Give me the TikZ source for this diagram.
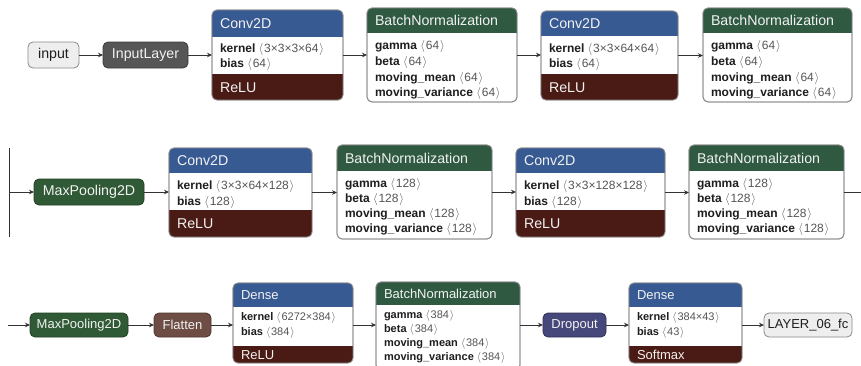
\documentclass[tikz,border=0pt]{standalone}
\usepackage{fontspec}
\setmainfont{Liberation Sans}
\usetikzlibrary{arrows.meta}
\definecolor{convc}{HTML}{385A93}
\definecolor{normc}{HTML}{2F5A41}
\definecolor{reluc}{HTML}{4A1A14}
\definecolor{poolc}{HTML}{2F5A35}
\definecolor{shapec}{HTML}{6E4D44}
\definecolor{dropc}{HTML}{46477A}
\definecolor{inlc}{HTML}{565656}
\definecolor{ioc}{HTML}{EEEEEE}
\definecolor{bordc}{HTML}{8A8A8A}
\definecolor{headt}{HTML}{F2F2F2}
\definecolor{labc}{HTML}{1E1E1E}
\definecolor{valc}{HTML}{555555}
\definecolor{linec}{HTML}{333333}
\newcommand\hfA{\fontsize{14.2}{16}\selectfont}
\newcommand\hfB{\fontsize{13}{15}\selectfont}
\newcommand\bfA{\fontsize{12}{13}\selectfont}
\newcommand\bfB{\fontsize{11}{13}\selectfont}
\newcommand\vv[1]{\textcolor{valc}{$\langle$\kern0.8pt#1\kern0.8pt$\rangle$}}
% layer box with header
\newcommand\lyr[9]{%
  \node[lbox, minimum width={(#4-#2)*1pt}, minimum height={(#5-#3)*1pt}, anchor=north west] (#1) at (#2,#3) {};
  \begin{scope}
    \clip[rounded corners=5pt] (#1.north west) rectangle (#1.south east);
    \fill[#7] (#1.north west) rectangle (#4,#6);
  \end{scope}
  \node[txt, #8, text=headt, anchor=west] (#1-h) at (#2+8,{(#3+#6)/2}) {#9};
}
% footer (activation)
\newcommand\ftr[6]{%
  \begin{scope}
    \clip[rounded corners=5pt] (#1.north west) rectangle (#1.south east);
    \fill[reluc] (#2,#3) rectangle (#1.south east);
  \end{scope}
  \node[txt, #5, text=headt, anchor=west] (#1-f) at (#2+8,{(#3+#4)/2}) {#6};
}
\newcommand\brd[1]{\draw[draw=bordc, line width=0.8pt, rounded corners=5pt] (#1.north west) rectangle (#1.south east);}
\newcommand\bl[5]{\node[txt, #4, text=labc, anchor=west] (#1) at (#2,#3) {#5};}
% simple node
\newcommand\snd[9]{%
  \node[snode, fill=#6, draw=#7, text=#8, minimum width={(#4-#2)*1pt}, minimum height={(#5-#3)*1pt}, anchor=north west] (#1) at (#2,#3) {#9};
}
\begin{document}
\begin{tikzpicture}[x=1pt,y=-1pt,
  lbox/.style={draw=bordc, line width=0.8pt, fill=white, rounded corners=5pt, inner sep=0pt, outer sep=0pt},
  snode/.style={line width=0.8pt, rounded corners=5pt, inner sep=0pt, outer sep=0pt},
  txt/.style={inner sep=0pt, outer sep=0pt},
  hA/.style={font=\hfA, text height=10.4pt, text depth=0pt},
  hB/.style={font=\hfB, text height=9.5pt, text depth=0pt},
  bA/.style={font=\bfA, text height=8.4pt, text depth=0pt},
  bB/.style={font=\bfB, text height=7.8pt, text depth=0pt},
  conn/.style={draw=linec, line width=0.8pt, -{Stealth[length=5pt,width=4.5pt]}},
  plain/.style={draw=linec, line width=0.8pt}
]
\clip (0,0) rectangle (861,365);
\fill[white] (0,0) rectangle (861,365);

% ---------------- Row 1 ----------------
\snd{inp}{28}{42}{79}{68}{ioc}{bordc}{labc}{\hfA input}
\snd{il}{103}{42}{188}{68}{inlc}{inlc!70!black}{headt}{\hfA InputLayer}

\lyr{c1}{212}{10}{343}{100}{37}{convc}{hA}{Conv2D}
\ftr{c1}{212}{74}{100}{hA}{ReLU}
\brd{c1}
\bl{c1-1}{220}{48}{bA}{\textbf{kernel} \vv{3×3×3×64}}
\bl{c1-2}{220}{63}{bA}{\textbf{bias} \vv{64}}

\lyr{b1}{367}{8}{517}{102}{33}{normc}{hA}{BatchNormalization}
\brd{b1}
\bl{b1-1}{375}{45}{bA}{\textbf{gamma} \vv{64}}
\bl{b1-2}{375}{61}{bA}{\textbf{beta} \vv{64}}
\bl{b1-3}{375}{77}{bA}{\textbf{moving\_mean} \vv{64}}
\bl{b1-4}{375}{92}{bA}{\textbf{moving\_variance} \vv{64}}

\lyr{c2}{541}{11}{678}{100}{36}{convc}{hA}{Conv2D}
\ftr{c2}{541}{74}{100}{hA}{ReLU}
\brd{c2}
\bl{c2-1}{549}{48}{bA}{\textbf{kernel} \vv{3×3×64×64}}
\bl{c2-2}{549}{63}{bA}{\textbf{bias} \vv{64}}

\lyr{b2}{703}{8}{852}{102}{33}{normc}{hA}{BatchNormalization}
\brd{b2}
\bl{b2-1}{711}{45}{bA}{\textbf{gamma} \vv{64}}
\bl{b2-2}{711}{61}{bA}{\textbf{beta} \vv{64}}
\bl{b2-3}{711}{77}{bA}{\textbf{moving\_mean} \vv{64}}
\bl{b2-4}{711}{92}{bA}{\textbf{moving\_variance} \vv{64}}

\draw[conn] (inp.east) -- (il.west);
\draw[conn] (il.east) -- (il.east -| c1.west);
\draw[conn] (c1.east) -- (c1.east -| b1.west);
\draw[conn] (b1.east) -- (b1.east -| c2.west);
\draw[conn] (c2.east) -- (c2.east -| b2.west);

% ---------------- Row 2 ----------------
\coordinate (l2t) at (9,148);
\coordinate (l2b) at (9,237);
\coordinate (l2m) at (9,192);
\snd{mp2}{34}{179}{144}{205}{poolc}{poolc!70!black}{headt}{\hfA MaxPooling2D}

\lyr{c3}{169}{148}{312}{237}{173}{convc}{hA}{Conv2D}
\ftr{c3}{169}{210}{237}{hA}{ReLU}
\brd{c3}
\bl{c3-1}{177}{185}{bA}{\textbf{kernel} \vv{3×3×64×128}}
\bl{c3-2}{177}{201}{bA}{\textbf{bias} \vv{128}}

\lyr{b3}{337}{145}{492}{239}{171}{normc}{hA}{BatchNormalization}
\brd{b3}
\bl{b3-1}{345}{183}{bA}{\textbf{gamma} \vv{128}}
\bl{b3-2}{345}{198}{bA}{\textbf{beta} \vv{128}}
\bl{b3-3}{345}{213}{bA}{\textbf{moving\_mean} \vv{128}}
\bl{b3-4}{345}{228}{bA}{\textbf{moving\_variance} \vv{128}}

\lyr{c4}{516}{148}{665}{237}{173}{convc}{hA}{Conv2D}
\ftr{c4}{516}{210}{237}{hA}{ReLU}
\brd{c4}
\bl{c4-1}{524}{185}{bA}{\textbf{kernel} \vv{3×3×128×128}}
\bl{c4-2}{524}{201}{bA}{\textbf{bias} \vv{128}}

\lyr{b4}{689}{145}{844}{239}{171}{normc}{hA}{BatchNormalization}
\brd{b4}
\bl{b4-1}{697}{183}{bA}{\textbf{gamma} \vv{128}}
\bl{b4-2}{697}{198}{bA}{\textbf{beta} \vv{128}}
\bl{b4-3}{697}{213}{bA}{\textbf{moving\_mean} \vv{128}}
\bl{b4-4}{697}{228}{bA}{\textbf{moving\_variance} \vv{128}}
\coordinate (r2) at (861,192);

\draw[plain] (l2t) -- (l2b);
\draw[conn] (l2m) -- (l2m -| mp2.west);
\draw[conn] (mp2.east) -- (mp2.east -| c3.west);
\draw[conn] (c3.east) -- (c3.east -| b3.west);
\draw[conn] (b3.east) -- (b3.east -| c4.west);
\draw[conn] (c4.east) -- (c4.east -| b4.west);
\draw[plain] (b4.east) -- (r2);

% ---------------- Row 3 ----------------
\coordinate (l3) at (8,325);
\snd{mp3}{30}{313}{128}{337}{poolc}{poolc!70!black}{headt}{\hfB MaxPooling2D}
\snd{fl}{154}{313}{211}{337}{shapec}{shapec!70!black}{headt}{\hfB Flatten}

\lyr{d1}{233}{283}{353}{363}{307}{convc}{hB}{Dense}
\ftr{d1}{233}{346}{363}{hB}{ReLU}
\brd{d1}
\bl{d1-1}{241}{317}{bB}{\textbf{kernel} \vv{6272×384}}
\bl{d1-2}{241}{332}{bB}{\textbf{bias} \vv{384}}

\lyr{b5}{376}{282}{520}{370}{305}{normc}{hB}{BatchNormalization}
\brd{b5}
\bl{b5-1}{384}{315}{bB}{\textbf{gamma} \vv{384}}
\bl{b5-2}{384}{329}{bB}{\textbf{beta} \vv{384}}
\bl{b5-3}{384}{343}{bB}{\textbf{moving\_mean} \vv{384}}
\bl{b5-4}{384}{357}{bB}{\textbf{moving\_variance} \vv{384}}

\snd{dr}{543}{313}{606}{337}{dropc}{dropc!70!black}{headt}{\hfB Dropout}

\lyr{d2}{629}{283}{742}{363}{307}{convc}{hB}{Dense}
\ftr{d2}{629}{346}{363}{hB}{Softmax}
\brd{d2}
\bl{d2-1}{637}{317}{bB}{\textbf{kernel} \vv{384×43}}
\bl{d2-2}{637}{332}{bB}{\textbf{bias} \vv{43}}

\snd{out}{764}{313}{852}{337}{ioc}{bordc}{labc}{\hfB LAYER\_06\_fc}

\draw[conn] (l3) -- (l3 -| mp3.west);
\draw[conn] (mp3.east) -- (fl.west);
\draw[conn] (fl.east) -- (fl.east -| d1.west);
\draw[conn] (fl.east -| d1.east) -- (fl.east -| b5.west);
\draw[conn] (fl.east -| b5.east) -- (dr.west);
\draw[conn] (dr.east) -- (dr.east -| d2.west);
\draw[conn] (dr.east -| d2.east) -- (out.west);
\end{tikzpicture}
\end{document}
